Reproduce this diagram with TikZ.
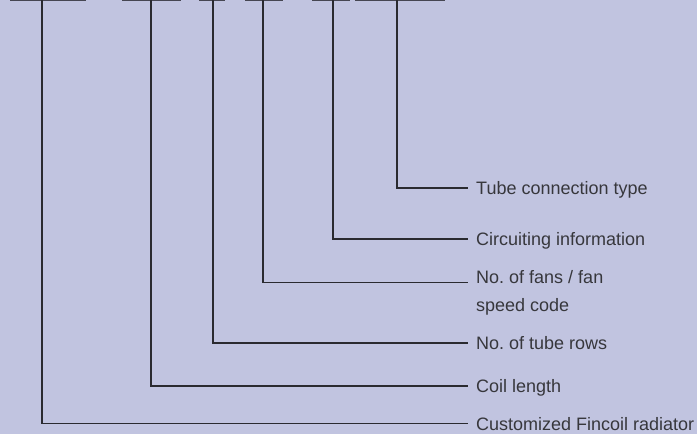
\documentclass[tikz,border=0pt]{standalone}
\usepackage{fontspec}
\setmainfont{Liberation Sans}
\usepackage{xcolor}
\usepackage{tikz}
\usetikzlibrary{positioning, calc}
\definecolor{bgcolor}{RGB}{193,196,224}
\definecolor{leadcolor}{RGB}{42,42,48}
\definecolor{fieldcolor}{RGB}{70,70,82}
\definecolor{labelcolor}{RGB}{55,55,60}
\frenchspacing

\begin{document}
\begin{tikzpicture}[
    x=1pt, y=-1pt,
    field/.style={draw=fieldcolor, line width=2pt},
    lead/.style={draw=leadcolor, line width=1.1pt},
    lbl/.style={anchor=west, inner xsep=8pt, inner ysep=0pt, text height=13.5pt, text depth=0pt,
        text=labelcolor, font=\fontsize{18pt}{28pt}\selectfont}
]
    \fill[bgcolor] (0,0) rectangle (697,434);
    \useasboundingbox (0,0) rectangle (697,434);

    \draw[field] (10,0) -- (86,0);
    \draw[field] (122,0) -- (181,0);
    \draw[field] (199,0) -- (225,0);
    \draw[field] (245,0) -- (283,0);
    \draw[field] (312,0) -- (350,0);
    \draw[field] (355,0) -- (445,0);

    \coordinate (c1) at (42,0);
    \coordinate (c2) at (151,0);
    \coordinate (c3) at (213,0);
    \coordinate (c4) at (263,0);
    \coordinate (c5) at (333,0);
    \coordinate (c6) at (397,0);

    \node[lbl] (tube) at (468,188) {Tube connection type};
    \node[lbl] (circ) at (468,239) {Circuiting information};
    \node[lbl, anchor=north west, align=left, text height=41.5pt] (fans) at (468,269.5) {No. of fans / fan\\speed code};
    \node[lbl] (rows) at (468,343) {No. of tube rows};
    \node[lbl] (coil) at (468,386) {Coil length};
    \node[lbl] (cust) at (468,423.5) {Customized Fincoil radiator};

    \draw[lead] (c6) |- (tube.west);
    \draw[lead] (c5) |- (circ.west);
    \draw[lead] (c4) |- ([yshift=-13pt]fans.north west);
    \draw[lead] (c3) |- (rows.west);
    \draw[lead] (c2) |- (coil.west);
    \draw[lead] (c1) |- (cust.west);
\end{tikzpicture}
\end{document}
